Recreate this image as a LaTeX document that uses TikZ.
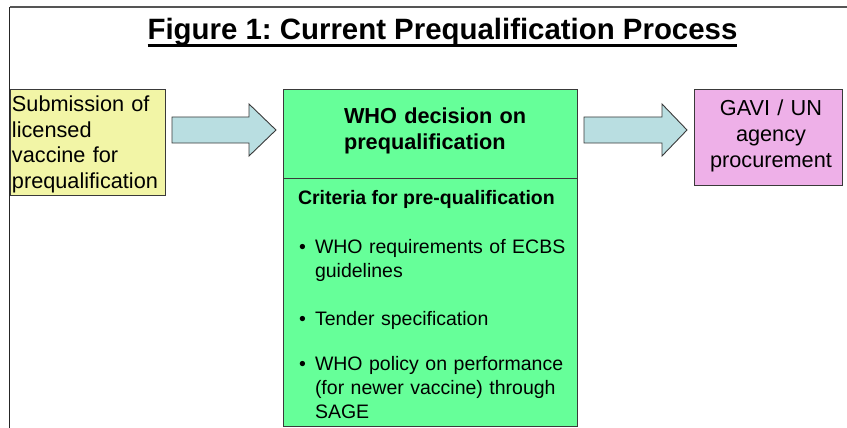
\documentclass[tikz,border=0pt]{standalone}
\usepackage{fontspec}
\setmainfont{Liberation Sans}
\usetikzlibrary{calc}
\frenchspacing

\definecolor{subfill}{HTML}{F2F5A6}
\definecolor{whofill}{HTML}{66FF99}
\definecolor{gavifill}{HTML}{EEB0E8}
\definecolor{arrowfill}{HTML}{B9DEE1}
\definecolor{edge}{HTML}{3A3A3A}
\definecolor{framegray}{HTML}{555555}

% block arrow from the east side of #1 to the west side of #2, head length #3
\newcommand\blockarrow[3]{%
  \path[arrowbody] let \p1=($(#1.east)+(7,0)$), \p2=($(#2.west)+(-7,0)$) in
    (\x1,-117pt) -- (\x2-#3,-117pt) -- (\x2-#3,-104pt) -- (\x2,-130pt)
    -- (\x2-#3,-156pt) -- (\x2-#3,-143pt) -- (\x1,-143pt) -- cycle;}

\begin{document}
\begin{tikzpicture}[x=1pt,y=-1pt,
  box/.style={draw=edge, line width=0.9pt, inner sep=0pt, outer sep=0pt, anchor=north west},
  txt/.style={inner sep=0pt, outer sep=0pt},
  bigtext/.style={font=\fontsize{21.7}{25.5}\selectfont},
  smalltext/.style={font=\fontsize{19.5}{24}\selectfont},
  arrowbody/.style={fill=arrowfill, draw=edge, line width=0.9pt, line join=miter},
]
\useasboundingbox (0,0) rectangle (847,428);

% frame lines
\draw[framegray, line width=1.6pt] (847,7) -- (9.5,7);
\draw[black!85, line width=1.6pt] (9.5,7) -- (9.5,428);

% title
\node[txt, anchor=base, font=\bfseries\fontsize{29.4}{34}\selectfont] (title) at (442.5,40)
  {Figure 1: Current Prequalification Process};
\draw[line width=3pt] ($(title.base west)+(0,5.5)$) -- ($(title.base east)+(0,5.5)$);

% boxes
\node[box, fill=subfill, minimum width=155pt, minimum height=106pt] (sub) at (10,89) {};
\node[box, fill=whofill, minimum width=294pt, minimum height=89pt] (who) at (283,89) {};
\node[box, fill=whofill, minimum width=294pt, minimum height=248pt] (crit) at (283,178) {};
\node[box, fill=gavifill, minimum width=148pt, minimum height=96pt] (gavi) at (694,89) {};

% box texts
\node[txt, bigtext, anchor=base west, text width=152pt, align=left] (subtext) at (12,112)
  {Submission of\\licensed\\vaccine for\\prequalification};
\node[txt, font=\bfseries\fontsize{21.7}{26}\selectfont, anchor=base west, text width=220pt, align=left] (whotext) at (344,124)
  {WHO decision on\\prequalification};
\node[txt, anchor=base, text width=146pt, align=center, font=\fontsize{21.7}{26}\selectfont] (gavitext) at (771,115)
  {GAVI / UN\\agency\\procurement};

% criteria list
\node[txt, anchor=base west, font=\bfseries\fontsize{19.5}{24}\selectfont] (crithead) at (298,204)
  {Criteria for pre-qualification};
\node[txt, smalltext, anchor=base west] (b1) at (299,253) {•};
\node[txt, smalltext, anchor=base west, text width=255pt, align=left] (item1) at (315,253)
  {WHO requirements of ECBS\\guidelines};
\node[txt, smalltext, anchor=base west] (b2) at (299,325) {•};
\node[txt, smalltext, anchor=base west, text width=255pt, align=left] (item2) at (315,325)
  {Tender specification};
\node[txt, smalltext, anchor=base west] (b3) at (299,370) {•};
\node[txt, smalltext, anchor=base west, text width=255pt, align=left] (item3) at (315,370)
  {WHO policy on performance\\(for newer vaccine) through\\SAGE};

% arrows between the stages
\blockarrow{sub}{who}{27pt}
\blockarrow{who}{gavi}{25pt}
\end{tikzpicture}
\end{document}
